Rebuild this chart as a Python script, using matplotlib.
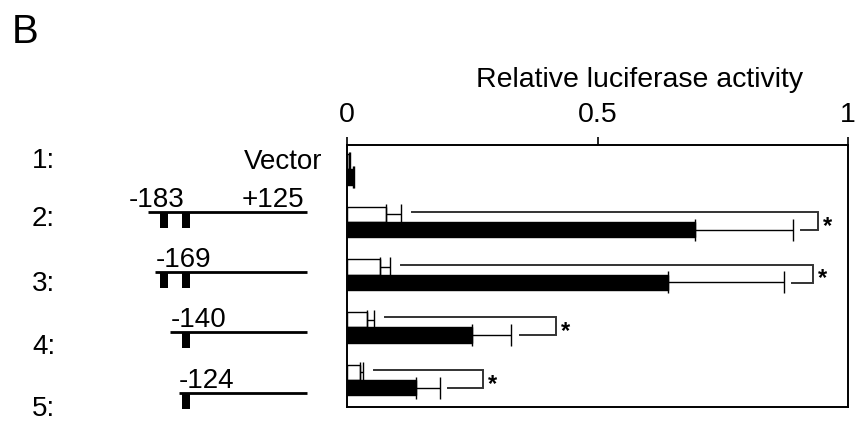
import matplotlib
matplotlib.use("Agg")
import matplotlib.pyplot as plt
import numpy as np

plt.rcParams['font.family'] = ['Liberation Sans', 'DejaVu Sans']

# luciferase readings, one row per construct (open = control, filled = stimulated)
rows = ['1:', '2:', '3:', '4:', '5:']
open_vals = [0.003, 0.077, 0.065, 0.040, 0.025]
open_err = [0.002, 0.030, 0.020, 0.014, 0.007]
black_vals = [0.012, 0.694, 0.641, 0.250, 0.138]
black_err = [0.002, 0.196, 0.231, 0.078, 0.047]
signif_rows = [2, 3, 4, 5]
bracket_right = [0.940, 0.930, 0.418, 0.271]

# promoter constructs (bp relative to transcription start)
construct_start = [-183, -169, -140, -124]
construct_end = 125
sites = [-152, -110]
ticks = [0, 0.5, 1]
tick_labels = ['0', '0.5', '1']

fig = plt.figure(figsize=(8.55, 4.21), dpi=100)

# --- bar panel ---
ax = fig.add_axes([347 / 855, 1 - 407 / 421, 501 / 855, 262 / 421])
y = np.arange(1, len(rows) + 1)
off = 0.145
h = 0.29
ax.barh(y - off, open_vals, height=h, color='white', edgecolor='black', linewidth=1.0,
        xerr=[np.zeros(len(rows)), open_err], error_kw=dict(ecolor='black', elinewidth=1.0,
                                                              capsize=7.5, capthick=1.0))
ax.barh(y + off, black_vals, height=h, color='black', edgecolor='black', linewidth=1.0,
        xerr=[np.zeros(len(rows)), black_err], error_kw=dict(ecolor='black', elinewidth=1.0,
                                                               capsize=8, capthick=1.0))

# significance brackets between open and filled bars
for r, xr in zip(signif_rows, bracket_right):
    i = r - 1
    x0 = open_vals[i] + open_err[i] + 0.022
    x1 = black_vals[i] + black_err[i] + 0.017
    ax.plot([x0, xr, xr, x1], [r - 0.19, r - 0.19, r + 0.15, r + 0.15],
            color='#333333', lw=1.4, solid_joinstyle='miter')
    ax.text(xr + 0.01, r + 0.08, '*', fontsize=17, fontweight='bold', ha='left', va='center')

ax.set_xlim(0, 1)
ax.set_ylim(5.51, 0.54)
ax.xaxis.tick_top()
ax.xaxis.set_label_position('top')
ax.set_xticks(ticks)
ax.set_xticklabels(tick_labels, fontsize=20.5)
ax.tick_params(axis='x', direction='out', length=6, width=1.2, pad=6)
ax.set_yticks([])
ax.set_xlabel('Relative luciferase activity', fontsize=20.5)
ax.xaxis.set_label_coords(0.583, 1.22)
for s in ax.spines.values():
    s.set_linewidth(1.4)

# --- construct schematics (x in bp, y in pixels from top) ---
sk = fig.add_axes([0, 0, 1, 1])
sk.set_xlim(-470, 1187)
sk.set_ylim(421, 0)
sk.axis('off')
sk.patch.set_visible(False)

row_label_y = [161, 219, 284, 347, 409]
line_y = [212, 272, 332, 393]
label_shift = [-38, 0, 0, 0]

for lab, yy in zip(rows, row_label_y):
    sk.text(-408, yy, lab, fontsize=20, ha='left', va='center')
sk.text(322 / 0.516 - 470, 162, 'Vector', fontsize=20, ha='right', va='center')

for start, yy, sh in zip(construct_start, line_y, label_shift):
    sk.plot([start, construct_end], [yy, yy], color='black', lw=2.0, solid_capstyle='butt')
    for s in sites:
        if s > start:
            sk.bar(s, 16, bottom=yy, width=16, color='black')
    sk.text(start + sh, yy - 5, str(start), fontsize=20, ha='left', va='baseline')
sk.text(construct_end - 6, line_y[0] - 5, '+%d' % construct_end, fontsize=20,
        ha='right', va='baseline')

fig.text(12 / 855, 1 - 32 / 421, 'B', fontsize=29, ha='left', va='center')

fig.savefig('out.png', dpi=100)
